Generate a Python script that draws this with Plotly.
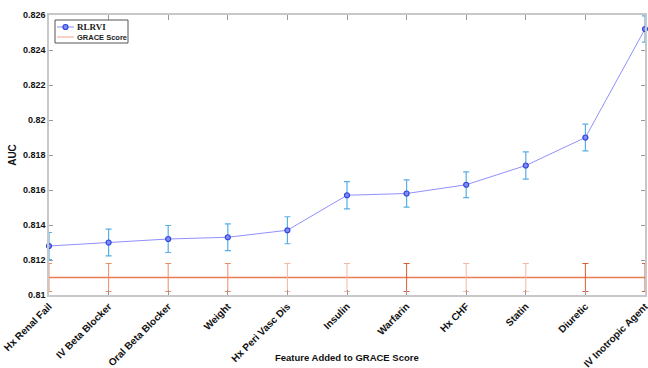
import plotly.graph_objects as go

features = ["Hx Renal Fail", "IV Beta Blocker", "Oral Beta Blocker", "Weight",
            "Hx Peri Vasc Dis", "Insulin", "Warfarin", "Hx CHF", "Statin",
            "Diuretic", "IV Inotropic Agent"]
rlrvi_auc = [0.8128, 0.8130, 0.8132, 0.8133, 0.8137, 0.8157, 0.8158, 0.8163,
             0.8174, 0.8190, 0.8252]
rlrvi_err = [0.00077, 0.00076, 0.00077, 0.00076, 0.00077, 0.00078, 0.00078,
             0.00074, 0.00078, 0.00076, 0.00075]
grace_auc = [0.8110] * 11
grace_err = [0.0008] * 11
y_ticks = [0.81, 0.812, 0.814, 0.816, 0.818, 0.82, 0.822, 0.824, 0.826]

# shade of each GRACE error bar: 0 = medium, 1 = light, 2 = dark
grace_bar_shade = [0, 0, 0, 0, 1, 1, 2, 1, 1, 2, 2]
shade_colors = {0: "#ec8c6a", 1: "#f4b7a0", 2: "#d95c36"}

xs = list(range(len(features)))
sans = "Liberation Sans, Arial, sans-serif"
serif = "Liberation Serif, Times New Roman, serif"

# plot-area geometry in pixels (used for the hand-drawn legend box)
W, H = 648, 368
L, R, T, B = 49, 3, 15, 73
pw, ph = W - L - R, H - T - B


def px(x):
    return (x - L) / pw


def py(y):
    return (H - B - y) / ph


fig = go.Figure()
fig.add_trace(go.Scatter(
    x=xs, y=grace_auc, mode="lines", name="GRACE Score", showlegend=False,
    line=dict(color="#ea7a52", width=1.3), cliponaxis=False,
))
for shade, color in shade_colors.items():
    idx = [i for i in xs if grace_bar_shade[i] == shade]
    fig.add_trace(go.Scatter(
        x=[xs[i] for i in idx], y=[grace_auc[i] for i in idx],
        mode="markers", marker=dict(size=1, opacity=0), showlegend=False,
        error_y=dict(type="data", array=[grace_err[i] for i in idx],
                     color=color, thickness=1, width=3),
        cliponaxis=False, hoverinfo="skip",
    ))
fig.add_trace(go.Scatter(
    x=xs, y=rlrvi_auc, mode="lines+markers", name="RLRVI", showlegend=False,
    line=dict(color="#9090ff", width=1),
    marker=dict(symbol="circle", size=5, color="#7f8cf2",
                line=dict(color="#2f44e0", width=1.2)),
    error_y=dict(type="data", array=rlrvi_err, color="#58aee6", thickness=1.2,
                 width=3),
    cliponaxis=False,
))

# legend box
shapes = [
    dict(type="rect", xref="paper", yref="paper",
         x0=px(55), x1=px(128), y0=py(43), y1=py(20),
         line=dict(color="#555", width=1), fillcolor="white", layer="above"),
    dict(type="line", xref="paper", yref="paper",
         x0=px(57), x1=px(74), y0=py(27), y1=py(27),
         line=dict(color="#9090ff", width=1), layer="above"),
    dict(type="circle", xref="paper", yref="paper",
         x0=px(63), x1=px(68), y0=py(29.5), y1=py(24.5),
         line=dict(color="#2f44e0", width=1.2), fillcolor="#7f8cf2",
         layer="above"),
    dict(type="line", xref="paper", yref="paper",
         x0=px(57), x1=px(74), y0=py(37), y1=py(37),
         line=dict(color="#f4a090", width=1), layer="above"),
]
annotations = [
    dict(xref="paper", yref="paper", x=px(75), y=py(27), xanchor="left",
         yanchor="middle", text="<b>RLRVI</b>", showarrow=False,
         font=dict(family=serif, size=9, color="#222")),
    dict(xref="paper", yref="paper", x=px(75), y=py(37), xanchor="left",
         yanchor="middle", text="<b>GRACE Score</b>", showarrow=False,
         font=dict(family=sans, size=7.5, color="#222")),
    # x-axis title at a fixed spot below the rotated category labels
    dict(xref="paper", yref="paper", x=px(347), y=py(357), xanchor="center",
         yanchor="middle", text="<b>Feature Added to GRACE Score</b>",
         showarrow=False, font=dict(family=sans, size=9.5, color="#111")),
]

fig.update_layout(
    width=W, height=H,
    margin=dict(l=L, r=R, t=T, b=B),
    paper_bgcolor="white", plot_bgcolor="white",
    font=dict(family=sans, size=9, color="#111"),
    showlegend=False,
    shapes=shapes, annotations=annotations,
)
fig.update_xaxes(
    range=[0, 10], tickmode="array", tickvals=xs, ticktext=features,
    tickangle=-45, ticks="inside", ticklen=5, tickcolor="#999",
    showline=True, linecolor="#c8c8c8", linewidth=1.5, mirror="ticks",
    showgrid=False, zeroline=False, automargin=False,
    ticklabeloverflow="allow",
    tickfont=dict(size=10, family=sans, weight="bold"),
)
fig.update_yaxes(
    range=[0.81, 0.826], tickmode="array", tickvals=y_ticks,
    ticktext=[("%g" % v) for v in y_ticks],
    ticks="inside", ticklen=4, tickcolor="#999",
    showline=True, linecolor="#c8c8c8", linewidth=1.5, mirror="ticks",
    showgrid=False, zeroline=False, automargin=False,
    tickfont=dict(size=9, family=sans, weight="bold"),
    title=dict(text="AUC", standoff=4,
               font=dict(size=10, family=sans, weight="bold")),
)

fig.write_html("out.html")
